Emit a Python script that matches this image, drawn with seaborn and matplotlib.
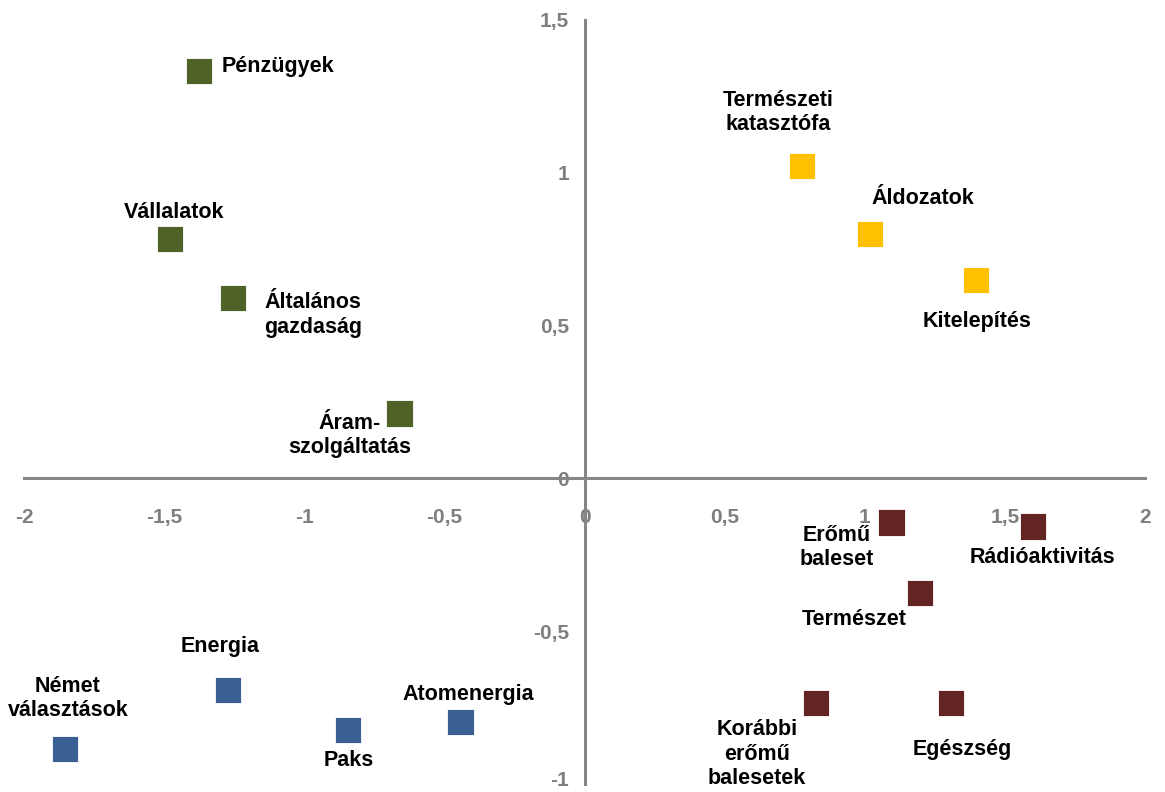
import matplotlib
matplotlib.use('Agg')
import matplotlib.pyplot as plt
import matplotlib.transforms as mtransforms
import seaborn as sns
import pandas as pd
from matplotlib.ticker import FuncFormatter

#------------------------------------------------------------------------------
labels = ['Pénzügyek', 'Vállalatok', 'Általános\ngazdaság', 'Áram-\nszolgáltatás',
          'Természeti\nkatasztófa', 'Áldozatok', 'Kitelepítés',
          'Erőmű\nbaleset', 'Rádióaktivitás', 'Természet',
          'Korábbi\nerőmű\nbalesetek', 'Egészség',
          'Energia', 'Paks', 'Atomenergia', 'Német\nválasztások']
x_vals = [-1.375, -1.48, -1.254, -0.66,
          0.775, 1.018, 1.396,
          1.096, 1.60, 1.196,
          0.825, 1.307,
          -1.271, -0.843, -0.443, -1.854]
y_vals = [1.333, 0.784, 0.59, 0.212,
          1.023, 0.80, 0.65,
          -0.144, -0.157, -0.376,
          -0.735, -0.735,
          -0.693, -0.824, -0.797, -0.886]
groups = ['g'] * 4 + ['y'] * 3 + ['r'] * 5 + ['b'] * 4
#------------------------------------------------------------------------------
palette = {'g': '#4F6228', 'y': '#FFC000', 'r': '#632523', 'b': '#3A6093'}
# label offsets in pixels (dx, dy, ha)
offsets = [(22, 5, 'left'), (4, 26, 'center'), (31, -17, 'left'), (-50, -22, 'center'),
           (-24, 53, 'center'), (53, 35, 'center'), (1, -42, 'center'),
           (-55, -25, 'center'), (10, -31, 'center'), (-65, -26, 'center'),
           (-59, -51, 'center'), (11, -46, 'center'),
           (-8, 44, 'center'), (1, -30, 'center'), (8, 27, 'center'), (3, 51, 'center')]

df = pd.DataFrame({'label': labels, 'x': x_vals, 'y': y_vals, 'grp': groups})

sns.set_style('white')
plt.rcParams['font.family'] = ['Liberation Sans', 'DejaVu Sans']
plt.rcParams['axes.unicode_minus'] = False

fig = plt.figure(figsize=(11.65, 7.92), dpi=100)
ax = fig.add_axes([24 / 1165, 1 - 784 / 792, (1145 - 24) / 1165, (784 - 20) / 792])

sns.scatterplot(data=df, x='x', y='y', hue='grp', palette=palette, marker='s',
                s=360, linewidth=0.6, edgecolor='white', legend=False, ax=ax, zorder=3)

for i, row in df.iterrows():
    dx, dy, ha = offsets[i]
    ax.annotate(row['label'], (row['x'], row['y']), xytext=(dx, dy),
                textcoords='offset pixels', ha=ha, va='center',
                multialignment='center', fontsize=15.5, fontweight='bold',
                color='black', linespacing=1.2)

ax.set_xlim(-2, 2)
ax.set_ylim(-1, 1.5)
ax.set_xticks([-2, -1.5, -1, -0.5, 0, 0.5, 1, 1.5, 2])
ax.set_yticks([-1, -0.5, 0, 0.5, 1, 1.5])
fmt = FuncFormatter(lambda v, p: ('%g' % v).replace('.', ','))
ax.xaxis.set_major_formatter(fmt)
ax.yaxis.set_major_formatter(fmt)

for side in ['top', 'right']:
    ax.spines[side].set_visible(False)
ax.spines['left'].set_position(('data', 0))
ax.spines['bottom'].set_position(('data', 0))
for side in ['left', 'bottom']:
    ax.spines[side].set_color('#868686')
    ax.spines[side].set_linewidth(2.2)

ax.tick_params(axis='both', colors='#868686', width=2, length=4, direction='out',
               labelsize=15, labelcolor='#7F7F7F')
ax.tick_params(axis='x', pad=17)
ax.tick_params(axis='y', pad=7)
for t in ax.get_xticklabels() + ax.get_yticklabels():
    t.set_fontweight('bold')
# keep the bottom "-1" inside the canvas
lowest = ax.get_yticklabels()[0]
lowest.set_transform(lowest.get_transform() +
                     mtransforms.ScaledTranslation(0, 4 / 72, fig.dpi_scale_trans))
ax.set_xlabel('')
ax.set_ylabel('')
ax.set_facecolor('none')

fig.savefig('out.png', dpi=100)
